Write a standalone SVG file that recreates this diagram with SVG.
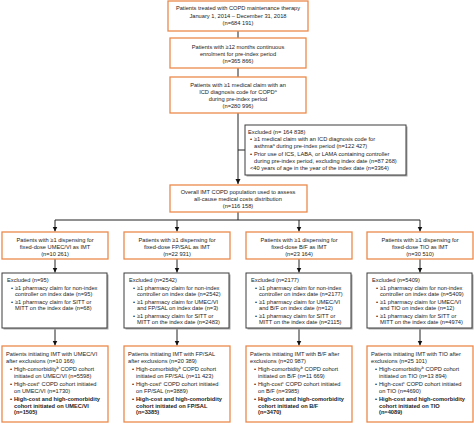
<svg xmlns="http://www.w3.org/2000/svg" width="474" height="424" viewBox="0 0 474 424">
<style>
text{font-family:"Liberation Sans",Arial,sans-serif;font-size:5.7px;fill:#222}
.c{text-anchor:middle}
.b{font-weight:bold}
.o{fill:#fff;stroke:#ec8a4c;stroke-width:1.3}
.x{fill:#fff;stroke:#3c3c3c;stroke-width:1}
.sh{fill:#a8a8a8}
.ln{stroke:#222;stroke-width:1;fill:none}
.sup{font-size:3.8px}
</style>
<defs>
<marker id="ah" markerWidth="6" markerHeight="6" refX="5" refY="3" orient="auto" markerUnits="userSpaceOnUse">
<path d="M0,0.5 L5,3 L0,5.5 Z" fill="#111"/>
</marker>
</defs>
<rect width="474" height="424" fill="#fff"/>
<g id="connectors">
<path class="ln" d="M238,31V38M238,68V77"/>
<path class="ln" d="M238,113V184" marker-end="url(#ah)"/>
<path class="ln" d="M238,150H245"/>
<path class="ln" d="M238,212V220M55,220H420"/>
<path class="ln" d="M55,220V231.5" marker-end="url(#ah)"/>
<path class="ln" d="M177,220V231.5" marker-end="url(#ah)"/>
<path class="ln" d="M299,220V231.5" marker-end="url(#ah)"/>
<path class="ln" d="M420,220V231.5" marker-end="url(#ah)"/>
<path class="ln" d="M55,259V272.5" marker-end="url(#ah)"/>
<path class="ln" d="M177,259V272.5" marker-end="url(#ah)"/>
<path class="ln" d="M299,259V272.5" marker-end="url(#ah)"/>
<path class="ln" d="M420,259V272.5" marker-end="url(#ah)"/>
<path class="ln" d="M55,328V345.5" marker-end="url(#ah)"/>
<path class="ln" d="M177,328V345.5" marker-end="url(#ah)"/>
<path class="ln" d="M299,328V345.5" marker-end="url(#ah)"/>
<path class="ln" d="M420,328V345.5" marker-end="url(#ah)"/>
</g>
<g id="n1">
<rect class="o" x="168" y="1" width="140" height="30"/>
<text class="c" x="238" y="10">Patients treated with COPD maintenance therapy</text>
<text class="c" x="238" y="17.5">January 1, 2014 – December 31, 2018</text>
<text class="c" x="238" y="25">(n=684 191)</text>
</g>
<g id="n2">
<rect class="o" x="170" y="38" width="136" height="30"/>
<text class="c" x="238" y="48.5">Patients with ≥12 months continuous</text>
<text class="c" x="238" y="55.5">enrolment for pre-index period</text>
<text class="c" x="238" y="62.5">(n=365 866)</text>
</g>
<g id="n3">
<rect class="o" x="170" y="77" width="136" height="36"/>
<text class="c" x="238" y="87">Patients with ≥1 medical claim with an</text>
<text class="c" x="238" y="94">ICD diagnosis code for COPD<tspan class="sup" dy="-2">a</tspan></text>
<text class="c" x="238" y="101">during pre-index period</text>
<text class="c" x="238" y="108">(n=280 996)</text>
</g>
<g id="excl-main">
<rect class="sh" x="246.5" y="126.5" width="161" height="50"/>
<rect class="x" x="245" y="125" width="161" height="50"/>
<text x="248" y="133.5">Excluded (n= 164 838)</text>
<text x="250" y="141">•</text><text x="254" y="141">≥1 medical claim with an ICD diagnosis code for</text>
<text x="254" y="148">asthma<tspan class="sup" dy="-2">a</tspan><tspan dy="2"> during pre-index period (n=122 427)</tspan></text>
<text x="250" y="155.5">•</text><text x="254" y="155.5">Prior use of ICS, LABA, or LAMA containing controller</text>
<text x="254" y="162.5">during pre-index period, excluding index date (n=87 268)</text>
<text x="250" y="170">&lt;40 years of age in the year of the index date (n=3364)</text>
</g>
<g id="overall">
<rect class="o" x="170" y="185" width="137" height="27"/>
<text class="c" x="238" y="194">Overall IMT COPD population used to assess</text>
<text class="c" x="238" y="201">all-cause medical costs distribution</text>
<text class="c" x="238" y="208">(n=116 158)</text>
</g>
<g id="d1">
<rect class="o" x="2" y="232" width="106" height="27"/>
<text class="c" x="55" y="241.5">Patients with ≥1 dispensing for</text>
<text class="c" x="55" y="248.5">fixed-dose UMEC/VI as IMT</text>
<text class="c" x="55" y="255.5">(n=10 261)</text>
</g>
<g id="d2">
<rect class="o" x="124" y="232" width="106" height="27"/>
<text class="c" x="177" y="241.5">Patients with ≥1 dispensing for</text>
<text class="c" x="177" y="248.5">fixed-dose FP/SAL as IMT</text>
<text class="c" x="177" y="255.5">(n=22 931)</text>
</g>
<g id="d3">
<rect class="o" x="246" y="232" width="106" height="27"/>
<text class="c" x="299" y="241.5">Patients with ≥1 dispensing for</text>
<text class="c" x="299" y="248.5">fixed-dose B/F as IMT</text>
<text class="c" x="299" y="255.5">(n=23 164)</text>
</g>
<g id="d4">
<rect class="o" x="367" y="232" width="106" height="27"/>
<text class="c" x="420" y="241.5">Patients with ≥1 dispensing for</text>
<text class="c" x="420" y="248.5">fixed-dose TIO as IMT</text>
<text class="c" x="420" y="255.5">(n=30 510)</text>
</g>
<g id="e1">
<rect class="sh" x="3.5" y="274.5" width="105" height="55"/>
<rect class="x" x="2" y="273" width="105" height="55"/>
<text x="7" y="282">Excluded (n=95)</text>
<text x="11" y="289.5">•</text><text x="15" y="289.5">≥1 pharmacy claim for non-index</text>
<text x="15" y="296">controller on index date (n=95)</text>
<text x="11" y="303.5">•</text><text x="15" y="303.5">≥1 pharmacy claim for SITT or</text>
<text x="15" y="310">MITT on the index date (n=68)</text>
</g>
<g id="e2">
<rect class="sh" x="125.5" y="274.5" width="105" height="55"/>
<rect class="x" x="124" y="273" width="105" height="55"/>
<text x="129" y="282">Excluded (n=2542)</text>
<text x="133" y="289.5">•</text><text x="137" y="289.5">≥1 pharmacy claim for non-index</text>
<text x="137" y="296">controller on index date (n=2542)</text>
<text x="133" y="303.5">•</text><text x="137" y="303.5">≥1 pharmacy claim for UMEC/VI</text>
<text x="137" y="310">and FP/SAL on index date (n=3)</text>
<text x="133" y="317.5">•</text><text x="137" y="317.5">≥1 pharmacy claim for SITT or</text>
<text x="137" y="324">MITT on the index date (n=2483)</text>
</g>
<g id="e3">
<rect class="sh" x="247.5" y="274.5" width="105" height="55"/>
<rect class="x" x="246" y="273" width="105" height="55"/>
<text x="251" y="282">Excluded (n=2177)</text>
<text x="255" y="289.5">•</text><text x="259" y="289.5">≥1 pharmacy claim for non-index</text>
<text x="259" y="296">controller on index date (n=2177)</text>
<text x="255" y="303.5">•</text><text x="259" y="303.5">≥1 pharmacy claim for UMEC/VI</text>
<text x="259" y="310">and B/F on index date (n=12)</text>
<text x="255" y="317.5">•</text><text x="259" y="317.5">≥1 pharmacy claim for SITT or</text>
<text x="259" y="324">MITT on the index date (n=2115)</text>
</g>
<g id="e4">
<rect class="sh" x="368.5" y="274.5" width="105" height="55"/>
<rect class="x" x="367" y="273" width="105" height="55"/>
<text x="372" y="282">Excluded (n=5409)</text>
<text x="376" y="289.5">•</text><text x="380" y="289.5">≥1 pharmacy claim for non-index</text>
<text x="380" y="296">controller on index date (n=5409)</text>
<text x="376" y="303.5">•</text><text x="380" y="303.5">≥1 pharmacy claim for UMEC/VI</text>
<text x="380" y="310">and TIO on index date (n=12)</text>
<text x="376" y="317.5">•</text><text x="380" y="317.5">≥1 pharmacy claim for SITT or</text>
<text x="380" y="324">MITT on the index date (n=4974)</text>
</g>
<g id="f1">
<rect class="o" x="2" y="346" width="106" height="76"/>
<text x="6" y="356">Patients initiating IMT with UMEC/VI</text>
<text x="6" y="363">after exclusions (n=10 166)</text>
<text x="10" y="371">•</text><text x="14" y="371">High-comorbidity<tspan class="sup" dy="-2">b</tspan><tspan dy="2"> COPD cohort</tspan></text>
<text x="14" y="377.5">initiated on UMEC/VI (n=5598)</text>
<text x="10" y="386">•</text><text x="14" y="386">High-cost<tspan class="sup" dy="-2">c</tspan><tspan dy="2"> COPD cohort initiated</tspan></text>
<text x="14" y="392.5">on UMEC/VI (n=1730)</text>
<text class="b" x="10" y="401">•</text><text class="b" x="14" y="401">High-cost and high-comorbidity</text>
<text class="b" x="14" y="407.5">cohort initiated on UMEC/VI</text>
<text class="b" x="14" y="414">(n=1505)</text>
</g>
<g id="f2">
<rect class="o" x="124" y="346" width="106" height="76"/>
<text x="128" y="356">Patients initiating IMT with FP/SAL</text>
<text x="128" y="363">after exclusions (n=20 389)</text>
<text x="132" y="371">•</text><text x="136" y="371">High-comorbidity<tspan class="sup" dy="-2">b</tspan><tspan dy="2"> COPD cohort</tspan></text>
<text x="136" y="377.5">initiated on FP/SAL (n=11 423)</text>
<text x="132" y="386">•</text><text x="136" y="386">High-cost<tspan class="sup" dy="-2">c</tspan><tspan dy="2"> COPD cohort initiated</tspan></text>
<text x="136" y="392.5">on FP/SAL (n=3889)</text>
<text class="b" x="132" y="401">•</text><text class="b" x="136" y="401">High-cost and high-comorbidity</text>
<text class="b" x="136" y="407.5">cohort initiated on FP/SAL</text>
<text class="b" x="136" y="414">(n=3385)</text>
</g>
<g id="f3">
<rect class="o" x="246" y="346" width="106" height="76"/>
<text x="250" y="356">Patients initiating IMT with B/F after</text>
<text x="250" y="363">exclusions (n=20 987)</text>
<text x="254" y="371">•</text><text x="258" y="371">High-comorbidity<tspan class="sup" dy="-2">b</tspan><tspan dy="2"> COPD cohort</tspan></text>
<text x="258" y="377.5">initiated on B/F (n=11 669)</text>
<text x="254" y="386">•</text><text x="258" y="386">High-cost<tspan class="sup" dy="-2">c</tspan><tspan dy="2"> COPD cohort initiated</tspan></text>
<text x="258" y="392.5">on B/F (n=3985)</text>
<text class="b" x="254" y="401">•</text><text class="b" x="258" y="401">High-cost and high-comorbidity</text>
<text class="b" x="258" y="407.5">cohort initiated on B/F</text>
<text class="b" x="258" y="414">(n=3470)</text>
</g>
<g id="f4">
<rect class="o" x="367" y="346" width="106" height="76"/>
<text x="371" y="356">Patients initiating IMT with TIO after</text>
<text x="371" y="363">exclusions (n=25 101)</text>
<text x="375" y="371">•</text><text x="379" y="371">High-comorbidity<tspan class="sup" dy="-2">b</tspan><tspan dy="2"> COPD cohort</tspan></text>
<text x="379" y="377.5">initiated on TIO (n=13 894)</text>
<text x="375" y="386">•</text><text x="379" y="386">High-cost<tspan class="sup" dy="-2">c</tspan><tspan dy="2"> COPD cohort initiated</tspan></text>
<text x="379" y="392.5">on TIO (n=4690)</text>
<text class="b" x="375" y="401">•</text><text class="b" x="379" y="401">High-cost and high-comorbidity</text>
<text class="b" x="379" y="407.5">cohort initiated on TIO</text>
<text class="b" x="379" y="414">(n=4089)</text>
</g>
</svg>
